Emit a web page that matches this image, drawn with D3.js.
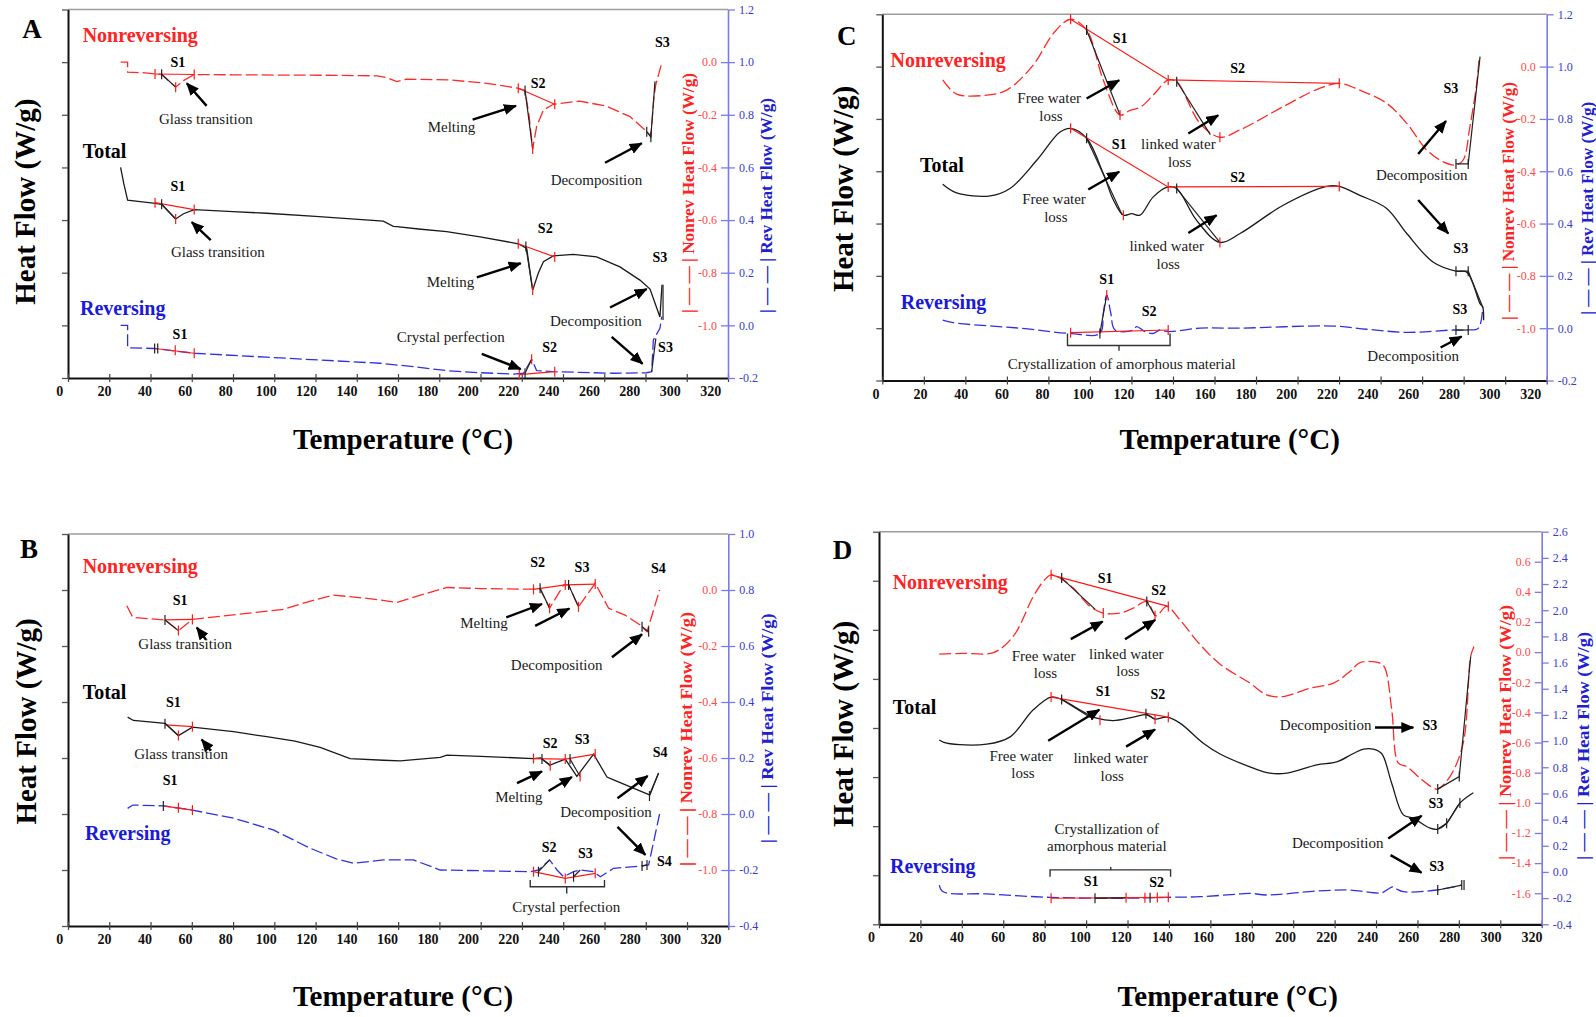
<!DOCTYPE html>
<html><head><meta charset="utf-8">
<script src="https://cdn.jsdelivr.net/npm/d3@7"></script>
<style>body{margin:0;background:#fff}svg{display:block}text{font-family:"Liberation Serif","Times New Roman",serif}</style>
</head><body>
<svg id="chart" width="1596" height="1017"></svg>
<script>
// ---------------- DATA ----------------
const xTicks=[0,20,40,60,80,100,120,140,160,180,200,220,240,260,280,300,320];
const A_blueTicks=[1.2,1.0,0.8,0.6,0.4,0.2,0.0,-0.2];
const A_redTicks=[0.0,-0.2,-0.4,-0.6,-0.8,-1.0];
const B_blueTicks=[1.0,0.8,0.6,0.4,0.2,0.0,-0.2,-0.4];
const B_redTicks=[0.0,-0.2,-0.4,-0.6,-0.8,-1.0];
const C_blueTicks=[1.2,1.0,0.8,0.6,0.4,0.2,0.0,-0.2];
const C_redTicks=[0.0,-0.2,-0.4,-0.6,-0.8,-1.0];
const D_blueTicks=[2.6,2.4,2.2,2.0,1.8,1.6,1.4,1.2,1.0,0.8,0.6,0.4,0.2,0.0,-0.2,-0.4];
const D_redTicks=[0.6,0.4,0.2,0.0,-0.2,-0.4,-0.6,-0.8,-1.0,-1.2,-1.4,-1.6];

// Panel A  (T °C, value)  nonrev: red axis, total: left (unlabelled) units, rev: blue axis
const A_nonrev=[[25.5,0.0],[28.9,0.0],[28.9,-0.038],[36,-0.040],[42.2,-0.045],[45.4,-0.047],[52.2,-0.095],[56,-0.07],[61.2,-0.047],[80,-0.048],[100,-0.049],[130,-0.050],[150,-0.052],[155,-0.06],[159.4,-0.074],[164,-0.065],[184,-0.067],[200,-0.078],[208,-0.086],[218,-0.099],[221.6,-0.108],[223.5,-0.2],[225.3,-0.33],[227.2,-0.245],[230.5,-0.182],[235.3,-0.16],[248,-0.148],[261,-0.167],[272.5,-0.207],[280.6,-0.264],[282.6,-0.28],[284,-0.14],[285,-0.085],[288,0.0]];
const A_total=[[25.5,4.0],[27,3.7],[28.9,3.38],[35,3.35],[41.4,3.32],[45.4,3.30],[52.2,3.02],[56,3.12],[61.2,3.2],[80,3.16],[96.3,3.13],[120,3.07],[152.9,2.98],[157.7,2.88],[159.4,2.875],[170,2.83],[183.6,2.78],[199.8,2.68],[218.3,2.55],[222.4,2.46],[225.3,1.67],[228,1.99],[230.5,2.21],[235.3,2.32],[245,2.35],[256.3,2.30],[267.6,2.11],[277.3,1.86],[282.2,1.69],[287,1.16],[288,1.77]];
const A_rev=[[25.5,0.0],[28.9,0.0],[28.9,-0.085],[42,-0.088],[61.2,-0.106],[96.3,-0.121],[130,-0.135],[151.3,-0.144],[167.4,-0.157],[183.6,-0.172],[200,-0.18],[216,-0.185],[220.8,-0.182],[222.5,-0.16],[224.8,-0.129],[226,-0.15],[227.2,-0.172],[235.3,-0.176],[264.4,-0.182],[280.6,-0.18],[283,-0.176],[283.8,-0.056],[287,-0.011],[287.9,0.033]];
const A_lines=[["n","r",[[42.2,-0.045],[61.2,-0.047]]],["n","k",[[45.4,-0.046],[52.2,-0.095]]],["n","r",[[218.3,-0.099],[236,-0.16]]],["n","k",[[221.6,-0.108],[225.3,-0.33]]],["n","k",[[280.6,-0.264],[282.6,-0.285],[284.6,-0.073]]],["t","r",[[42.2,3.33],[61.2,3.2]]],["t","k",[[45.4,3.30],[52.2,3.02]]],["t","r",[[218.3,2.55],[236,2.30]]],["t","k",[[222,2.50],[225.3,1.67]]],["t","k",[[288.5,1.77],[288.5,1.1]]],["r","r",[[42.2,-0.088],[61.2,-0.106]]],["r","r",[[218.8,-0.187],[236,-0.176]]],["r","k",[[221.6,-0.182],[224.8,-0.129]]],["r","k",[[283,-0.176],[285,-0.05]]]];
const A_ticks=[["n","r",42.2,-0.045],["n","k",45.4,-0.046],["n","r",52.2,-0.095],["n","r",61.2,-0.047],["n","r",218.3,-0.099],["n","k",221.6,-0.108],["n","r",225.3,-0.33],["n","r",236,-0.16],["n","k",280.6,-0.264],["n","k",282.6,-0.285],["t","r",42.2,3.33],["t","k",45.4,3.30],["t","r",52.2,3.02],["t","r",61.2,3.2],["t","r",218.3,2.55],["t","k",222,2.5],["t","r",225.3,1.67],["t","r",236,2.30],["r","k",42,-0.088],["r","k",43.5,-0.088],["r","r",52,-0.095],["r","r",61.2,-0.106],["r","r",218.8,-0.187],["r","k",221.6,-0.182],["r","r",224.8,-0.129],["r","r",236,-0.176]];
const A_notes=[["Nonreversing",7.1,6.39,"start","nr"],["S1",53.3,5.91,"middle","s"],["Glass transition",44.1,4.83,"start","a"],["Total",7.1,4.17,"start","tot"],["S1",53.3,3.56,"middle","s"],["Glass transition",49.9,2.29,"start","a"],["Reversing",5.8,1.20,"start","rv"],["S1",54.3,0.75,"middle","s"],["S3",288.2,6.29,"middle","s"],["S2",227.9,5.50,"middle","s"],["Melting",174.4,4.68,"start","a"],["Decomposition",234,3.67,"start","a"],["S2",231.4,2.75,"middle","s"],["Melting",173.9,1.73,"start","a"],["S3",287,2.21,"middle","s"],["Decomposition",233.7,0.99,"start","a"],["Crystal perfection",159.4,0.69,"start","a"],["S2",233.5,0.50,"middle","s"],["S3",289.7,0.50,"middle","s"]];
const A_arrows=[[67.2,5.17,57.6,5.60],[69.2,2.62,60,2.96],[196.2,4.91,217.2,5.17],[260.4,4.09,278.2,4.46],[198.2,1.91,219.5,2.18],[262.8,1.34,280.6,1.69],[263.6,0.78,278.6,0.27],[200.6,0.46,219.5,0.17]];
const A_brackets=[];

// Panel B
const B_nonrev=[[28.5,-0.056],[31.4,-0.0975],[40,-0.103],[47,-0.107],[53.5,-0.145],[60.3,-0.105],[80.2,-0.089],[104.4,-0.069],[115,-0.045],[128.6,-0.018],[144.8,-0.03],[151.3,-0.036],[159.4,-0.044],[170,-0.02],[183.6,0.009],[200,0.005],[224,0.003],[228.8,0.004],[233.4,-0.065],[240.2,0.018],[242.6,0.018],[247.4,-0.06],[255.5,0.024],[262,-0.065],[270,-0.09],[277.3,-0.125],[280.6,-0.149],[286.7,0.0]];
const B_total=[[28.9,3.73],[31.7,3.67],[47,3.62],[53.5,3.40],[60.3,3.55],[80.2,3.47],[96.3,3.38],[110,3.30],[122.2,3.19],[136.7,2.99],[152.9,2.96],[161,2.95],[180.4,3.01],[183.6,3.05],[200,3.03],[225.6,2.99],[229,3.0],[233.7,2.875],[241,2.98],[246.6,2.67],[254.7,3.07],[261.2,2.66],[264.4,2.61],[281.8,2.34],[286.2,2.73]];
const B_rev=[[28.9,0.02],[31.4,0.032],[46.2,0.029],[60.3,0.014],[80.2,-0.015],[99.5,-0.057],[117.3,-0.122],[130,-0.16],[138.3,-0.176],[152.9,-0.164],[167.4,-0.164],[180.4,-0.2],[224,-0.206],[228,-0.2],[233.4,-0.164],[237,-0.2],[240.2,-0.224],[245,-0.206],[248.2,-0.2],[254.7,-0.206],[258,-0.224],[264.4,-0.194],[277.3,-0.186],[281.4,-0.182],[286.7,0.0]];
const B_lines=[["n","r",[[47,-0.107],[60.3,-0.105]]],["n","k",[[47,-0.107],[53.5,-0.145]]],["n","r",[[225.6,0.0025],[241,0.018],[255.5,0.021]]],["n","k",[[228.8,0.006],[233.4,-0.065]]],["n","k",[[242.6,0.018],[247.4,-0.06]]],["n","k",[[278.2,-0.131],[281.4,-0.149]]],["t","r",[[47,3.59],[60.3,3.56]]],["t","k",[[47,3.62],[53.5,3.40]]],["t","r",[[225.6,2.99],[241,2.98],[255.5,3.07]]],["t","k",[[229.7,2.98],[233.7,2.86]]],["t","k",[[243.3,2.98],[248.2,2.67]]],["t","k",[[281.8,2.32],[286.2,2.73]]],["r","r",[[46.2,0.029],[60.3,0.014]]],["r","r",[[225.6,-0.206],[241,-0.23],[255.5,-0.212]]],["r","k",[[228,-0.206],[233.4,-0.164]]],["r","k",[[245,-0.224],[248.2,-0.2]]],["r","k",[[278.2,-0.186],[280.6,-0.182]]]];
const B_ticks=[["n","k",47,-0.107],["n","r",53.5,-0.145],["n","r",60.3,-0.105],["n","r",225.6,0.0025],["n","k",228.8,0.006],["n","r",233.4,-0.065],["n","r",241,0.018],["n","k",242.6,0.018],["n","r",247.4,-0.06],["n","r",255.5,0.021],["n","k",278.2,-0.131],["n","k",281.4,-0.149],["t","k",47,3.61],["t","r",53.5,3.40],["t","r",60.3,3.56],["t","r",225.6,2.99],["t","k",229.7,2.98],["t","r",233.7,2.86],["t","r",241,2.98],["t","k",243.3,2.98],["t","r",248.2,2.67],["t","r",255.5,3.07],["t","k",281.8,2.32],["r","k",46.2,0.029],["r","r",53.5,0.022],["r","r",60.3,0.014],["r","r",225.6,-0.206],["r","k",228,-0.206],["r","r",241,-0.23],["r","k",245,-0.224],["r","r",255.5,-0.212],["r","k",278.2,-0.186],["r","k",280.6,-0.182]];
const B_notes=[["Nonreversing",7.1,6.30,"start","nr"],["S1",54.3,5.74,"middle","s"],["Glass transition",34.1,4.94,"start","a"],["Total",7.1,4.05,"start","tot"],["S1",51.1,3.91,"middle","s"],["Glass transition",32.1,2.98,"start","a"],["S1",49.5,2.51,"middle","s"],["Reversing",8.2,1.54,"start","rv"],["S2",227.6,6.41,"middle","s"],["S3",249.1,6.33,"middle","s"],["S4",286.1,6.30,"middle","s"],["Melting",190.1,5.32,"start","a"],["Decomposition",214.6,4.58,"start","a"],["S2",233.7,3.17,"middle","s"],["S3",249.2,3.25,"middle","s"],["S4",287,3.02,"middle","s"],["Melting",207,2.22,"start","a"],["Decomposition",238.5,1.95,"start","a"],["S2",233.2,1.32,"middle","s"],["S3",250.7,1.21,"middle","s"],["S4",289,1.08,"middle","s"],["Crystal perfection",241.5,0.255,"middle","a"]];
const B_arrows=[[66.9,5.11,62.4,5.33],[69.2,3.13,64.8,3.33],[212.4,5.51,229.7,5.75],[226.4,5.36,243,5.67],[263.6,4.80,278.2,5.21],[217.6,2.55,229.7,2.76],[232.9,2.41,244.2,2.66],[266.3,2.28,280.9,2.68],[266.3,1.77,279.8,1.27]];
const B_brackets=[[224,260,0.70,0.82,241.7,0.58]];

// Panel C
const C_nonrev=[[29.1,-0.051],[35.8,-0.105],[50.3,-0.109],[59.9,-0.09],[72.7,0.006],[82.4,0.127],[90.7,0.181],[98.4,0.14],[106.4,-0.051],[114.5,-0.185],[119.3,-0.167],[124.1,-0.156],[130.5,-0.109],[137.7,-0.051],[141.8,-0.058],[153,-0.217],[162.6,-0.27],[172.3,-0.242],[193.1,-0.153],[210,-0.085],[220.1,-0.064],[230,-0.09],[242.9,-0.14],[252.6,-0.217],[262.2,-0.319],[270.2,-0.364],[276.3,-0.376],[279.8,-0.357],[283,-0.23],[286.3,-0.064],[287.5,0.037]];
const C_total=[[29.1,3.75],[35.8,3.585],[52,3.53],[61.5,3.67],[74.4,4.21],[85.6,4.75],[90.7,4.82],[98.4,4.63],[106.4,3.96],[111.3,3.45],[116.1,3.16],[120.1,3.19],[124.1,3.16],[130.5,3.51],[137.7,3.70],[141.8,3.67],[151.4,3.06],[162.6,2.64],[172.3,2.81],[193.1,3.35],[214,3.71],[220.1,3.71],[230,3.54],[242.9,3.29],[252.6,2.81],[265.4,2.26],[276.3,2.09],[281.5,2.07],[287.9,1.47],[289.2,1.40],[289.6,1.15]];
const C_rev=[[29.1,0.031],[34.2,0.021],[66.3,0.0],[90.4,-0.02],[104.8,-0.02],[106.5,0.06],[108.1,0.127],[110,0.06],[112.1,-0.007],[120.9,-0.007],[122.5,0.006],[126.5,-0.013],[130.5,-0.02],[133.7,-0.007],[137.7,-0.013],[153,0.0],[170.7,0.0],[217.2,0.008],[233.3,-0.004],[252.6,-0.016],[275,-0.007],[281.5,-0.007],[287.1,0.0],[289.2,0.082]];
const C_lines=[["n","r",[[90.7,0.181],[137.7,-0.051],[220.1,-0.064]]],["n","k",[[98.4,0.14],[114.5,-0.185]]],["n","k",[[141.8,-0.056],[158,-0.26]]],["n","k",[[276.3,-0.372],[282.2,-0.372],[287.9,0.038]]],["t","r",[[90.7,4.82],[137.7,3.70],[220.1,3.71]]],["t","k",[[98.4,4.63],[115.5,3.17]]],["t","k",[[141.8,3.67],[162.6,2.64]]],["t","k",[[276.3,2.09],[282.2,2.09],[289.2,1.40]]],["r","r",[[90.7,-0.017],[137.7,-0.007]]],["r","k",[[104.8,-0.02],[108.1,0.127]]],["r","k",[[276.3,-0.007],[282.2,-0.007]]]];
const C_ticks=[["n","r",90.7,0.181],["n","k",98.4,0.14],["n","r",114.5,-0.185],["n","r",137.7,-0.051],["n","k",141.8,-0.058],["n","r",162.6,-0.27],["n","r",220.1,-0.064],["n","k",276.3,-0.372],["n","k",282.2,-0.372],["t","r",90.7,4.82],["t","k",98.4,4.63],["t","r",116.1,3.16],["t","r",137.7,3.70],["t","k",141.8,3.67],["t","r",162.6,2.64],["t","r",220.1,3.71],["t","k",276.3,2.09],["t","k",282.2,2.09],["r","r",90.7,-0.017],["r","k",104.8,-0.02],["r","r",108.1,0.127],["r","r",137.7,-0.007],["r","k",276.3,-0.007],["r","k",282.2,-0.007]];
const C_notes=[["Nonreversing",4.0,6.0,"start","nr"],["S1",114.5,6.46,"middle","s"],["Free water",80.4,5.30,"middle","a"],["loss",81.2,4.96,"middle","a"],["S2",171.1,5.87,"middle","s"],["linked water",142.6,4.42,"middle","a"],["loss",143.2,4.08,"middle","a"],["S1",114.1,4.42,"middle","s"],["Total",18.2,3.99,"start","tot"],["Free water",82.7,3.37,"middle","a"],["loss",83.6,3.03,"middle","a"],["S2",171.1,3.80,"middle","s"],["linked water",137,2.48,"middle","a"],["loss",137.7,2.14,"middle","a"],["S1",108.1,1.85,"middle","s"],["S2",128.5,1.24,"middle","s"],["Reversing",8.9,1.37,"start","rv"],["S3",273.8,5.50,"middle","s"],["Decomposition",259.8,3.83,"middle","a"],["S3",278.6,2.44,"middle","s"],["S3",278.2,1.28,"middle","s"],["Decomposition",255.7,0.38,"middle","a"],["Crystallization of amorphous material",115.3,0.22,"middle","a"]];
const C_arrows=[[98.4,5.39,114.1,5.74],[147.4,4.72,161.8,5.07],[99.2,3.65,114.1,3.99],[147.4,2.82,161,3.16],[258.1,4.33,271.5,4.96],[258.1,3.45,272.6,2.81],[268.9,0.63,279,0.84]];
const C_brackets=[[89.2,138.6,0.67,0.90,114,0.57]];

// Panel D
const D_nonrev=[[29.1,-0.013],[40,-0.008],[55.2,-0.003],[64.8,0.104],[74.5,0.369],[80,0.48],[83.1,0.513],[87.4,0.491],[93.8,0.425],[101.9,0.303],[108.3,0.259],[116.4,0.259],[122.8,0.292],[129.3,0.336],[133.8,0.241],[138.9,0.303],[145.3,0.214],[155,0.05],[164.7,-0.08],[179.1,-0.206],[187.2,-0.283],[195.2,-0.295],[208.1,-0.239],[219.4,-0.206],[227.4,-0.129],[232.3,-0.069],[241.9,-0.073],[244.3,-0.106],[247.6,-0.383],[250.8,-0.737],[254.8,-0.759],[261.2,-0.836],[267.7,-0.902],[269.8,-0.909],[275.7,-0.826],[282.1,-0.604],[285.7,-0.029],[287.3,0.037]];
const D_total=[[29.1,3.756],[32.7,3.69],[52,3.67],[63.3,3.82],[74.5,4.37],[83.1,4.63],[88.2,4.58],[96.9,4.37],[105.1,4.20],[113.1,4.15],[122.8,4.22],[129.3,4.27],[133.3,4.18],[138.9,4.22],[145.3,4.10],[156.6,3.69],[164.7,3.47],[179.1,3.21],[188.8,3.08],[196.9,3.08],[211.4,3.25],[221,3.31],[229,3.48],[233.9,3.57],[238.7,3.57],[242.7,3.48],[247.6,2.87],[253.2,2.23],[258.1,2.16],[266.1,1.96],[269.8,1.94],[274.1,2.06],[280.5,2.47],[287,2.68]];
const D_rev=[[29.1,-0.1],[31,-0.151],[52,-0.168],[82.6,-0.194],[116.4,-0.201],[138.9,-0.194],[155,-0.189],[174.3,-0.168],[179.1,-0.163],[187.2,-0.176],[211.4,-0.146],[227.4,-0.138],[242.7,-0.159],[246,-0.13],[248.3,-0.113],[250,-0.13],[253.2,-0.151],[269.3,-0.138],[281.4,-0.1]];
const D_lines=[["n","r",[[83.1,0.513],[139.7,0.303]]],["n","k",[[88.2,0.491],[104.3,0.285]]],["n","k",[[129.3,0.336],[133.3,0.241]]],["n","k",[[269.8,-0.909],[280.2,-0.826],[285.7,-0.029]]],["t","r",[[83.1,4.63],[139.7,4.22]]],["t","k",[[88.2,4.58],[101.9,4.22]]],["t","k",[[128.9,4.29],[133.3,4.18]]],["t","k",[[269.8,1.94],[274.1,2.06],[280.5,2.47]]],["r","r",[[83.1,-0.201],[139.7,-0.194]]],["r","k",[[104.3,-0.2],[119.3,-0.198]]],["r","k",[[269.8,-0.138],[281.4,-0.1]]]];
const D_ticks=[["n","r",83.1,0.513],["n","k",88.2,0.491],["n","r",108.3,0.259],["n","k",129.3,0.336],["n","r",133.3,0.241],["n","r",139.7,0.303],["n","k",269.8,-0.909],["n","k",280.2,-0.826],["t","r",83.1,4.63],["t","k",88.2,4.58],["t","r",106.7,4.16],["t","k",128.9,4.29],["t","r",133.3,4.18],["t","r",139.7,4.22],["t","k",269.8,1.94],["t","k",274.1,2.06],["t","k",280.5,2.47],["r","r",83.1,-0.201],["r","k",104.3,-0.2],["r","r",119.3,-0.198],["r","r",128.4,-0.197],["r","k",130.9,-0.197],["r","r",134.4,-0.196],["r","r",139.7,-0.194],["r","k",269.8,-0.138],["r","k",281.4,-0.1],["r","k",282.5,-0.1]];
const D_notes=[["Nonreversing",6.6,6.83,"start","nr"],["S1",109.2,6.95,"middle","s"],["S2",135,6.71,"middle","s"],["Free water",79.5,5.37,"middle","a"],["loss",80.4,5.01,"middle","a"],["linked water",119.4,5.41,"middle","a"],["loss",120.2,5.05,"middle","a"],["Total",6.6,4.29,"start","tot"],["S1",108.2,4.65,"middle","s"],["S2",134.7,4.59,"middle","s"],["Free water",68.7,3.33,"middle","a"],["loss",69.5,2.98,"middle","a"],["linked water",111.9,3.28,"middle","a"],["loss",112.6,2.93,"middle","a"],["Crystallization of",110,1.85,"middle","a"],["amorphous material",110,1.50,"middle","a"],["Reversing",5.3,1.05,"start","rv"],["S1",102.4,0.78,"middle","s"],["S2",134.1,0.77,"middle","s"],["Decomposition",215.7,3.96,"middle","a"],["S3",266,3.96,"middle","s"],["S3",268.9,2.36,"middle","s"],["Decomposition",221.5,1.55,"middle","a"],["S3",269.3,1.09,"middle","s"]];
const D_arrows=[[92.6,5.81,108,6.17],[118.8,5.81,133.3,6.20],[81.7,3.74,106.4,4.37],[119.3,3.62,133.3,3.97],[239.5,4.01,258,4.01],[245.9,1.75,262,2.21],[247,1.41,262,1.05]];
const D_brackets=[[82.6,140.8,1.11,0.97,111.9,1.17]];

// ---------------- LAYOUT ----------------
const panels=[
 {id:"A",L:68,R:728,T:9.5,B:378,nL:7,blue:[-0.2,1.2],red:[-1.2,0.2],bt:A_blueTicks,rt:A_redTicks,nonrev:A_nonrev,total:A_total,rev:A_rev,lines:A_lines,ticks:A_ticks,notes:A_notes,arrows:A_arrows,brackets:A_brackets,smooth:false,
  letter:[32,38],hf:[35,201.7],xt:[403,449],rtl:[694,193,240],btl:[771.7,205.5,215],ls:[-8.2,-4.75,-17.3]},
 {id:"B",L:68,R:728.3,T:534,B:926,nL:7,blue:[-0.4,1.0],red:[-1.2,0.2],bt:B_blueTicks,rt:B_redTicks,nonrev:B_nonrev,total:B_total,rev:B_rev,lines:B_lines,ticks:B_ticks,notes:B_notes,arrows:B_arrows,brackets:B_brackets,smooth:false,
  letter:[29,558],hf:[36,721.5],xt:[403,1006],rtl:[691.5,739,254],btl:[773,728.3,230],ls:[-8.2,-4.75,-17.3]},
 {id:"C",L:882.3,R:1546.7,T:14.3,B:380.5,nL:7,blue:[-0.2,1.2],red:[-1.2,0.2],bt:C_blueTicks,rt:C_redTicks,nonrev:C_nonrev,total:C_total,rev:C_rev,lines:C_lines,ticks:C_ticks,notes:C_notes,arrows:C_arrows,brackets:C_brackets,smooth:true,
  letter:[846.7,45],hf:[853,189],xt:[1229.7,449],rtl:[1514,201,238],btl:[1593,208.3,213],ls:[-6.4,-3.3,-15.9]},
 {id:"D",L:879,R:1541.7,T:531.7,B:924.3,nL:8,blue:[-0.4,2.6],red:[-1.806,0.799],bt:D_blueTicks,rt:D_redTicks,nonrev:D_nonrev,total:D_total,rev:D_rev,lines:D_lines,ticks:D_ticks,notes:D_notes,arrows:D_arrows,brackets:D_brackets,smooth:true,
  letter:[842.5,559],hf:[853,724],xt:[1227.7,1006],rtl:[1510.5,732.5,255],btl:[1589,746,228],ls:[-7.6,-4.4,-9.7]}
];

const RED="#ff2424", AXB="#7b7be6";
const svg=d3.select("#chart");
const defs=svg.append("defs");
defs.append("marker").attr("id","ah").attr("viewBox","0 0 13 11").attr("refX",12).attr("refY",5.5)
 .attr("markerWidth",13).attr("markerHeight",11).attr("markerUnits","userSpaceOnUse").attr("orient","auto")
 .append("path").attr("d","M0,0 L13,5.5 L0,11 Z").attr("fill","#000");
const fmt=v=>(Math.abs(v)<1e-9?0:v).toFixed(1);
const noteStyle={
 nr:{fill:RED,w:"bold",s:20}, tot:{fill:"#000",w:"bold",s:20}, rv:{fill:"#1a1ad8",w:"bold",s:20},
 s:{fill:"#000",w:"bold",s:14}, a:{fill:"#1a1a1a",w:"normal",s:15}
};

panels.forEach(p=>{
 const g=svg.append("g");
 const x=d3.scaleLinear([0,320],[p.L,p.R]);
 const yL=d3.scaleLinear([0,p.nL],[p.B,p.T]);
 const yB=d3.scaleLinear(p.blue,[p.B,p.T]);
 const yR=d3.scaleLinear(p.red,[p.B,p.T]);
 const ys={n:yR,t:yL,r:yB};
 const labX=d3.scaleLinear([20,320],[x(20)+p.ls[1],x(320)+p.ls[2]]);

 g.append("line").attr("x1",p.L).attr("x2",p.R).attr("y1",p.T).attr("y2",p.T).attr("stroke","#9c9c9c").attr("stroke-width",1.6);
 const la=g.append("g").attr("transform",`translate(${p.L},0)`)
  .call(d3.axisLeft(yL).tickValues(d3.range(0,p.nL+1)).tickFormat("").tickSize(6).tickSizeOuter(0));
 la.select(".domain").attr("stroke","#111").attr("stroke-width",2);
 la.selectAll(".tick line").attr("stroke","#555").attr("stroke-width",1.3);
 const ba=g.append("g").attr("transform",`translate(0,${p.B})`)
  .call(d3.axisBottom(x).tickValues(xTicks).tickFormat("").tickSize(4).tickSizeOuter(0));
 ba.select(".domain").attr("stroke","#111").attr("stroke-width",2.2);
 ba.selectAll(".tick line").attr("y1",-4).attr("stroke","#444").attr("stroke-width",1.2);
 g.append("g").selectAll("text").data(xTicks).join("text")
  .attr("x",d=>d===0?x(0)+p.ls[0]:labX(d)).attr("y",p.B+18)
  .attr("text-anchor","middle").attr("font-weight","bold").attr("font-size",14).attr("fill","#111").text(d=>d);
 const ra=g.append("g").attr("transform",`translate(${p.R},0)`)
  .call(d3.axisRight(yB).tickValues(p.bt).tickFormat(fmt).tickSize(7).tickPadding(4).tickSizeOuter(0));
 ra.attr("font-family","Liberation Serif").attr("font-size",12);
 ra.select(".domain").attr("stroke",AXB).attr("stroke-width",1.6);
 ra.selectAll(".tick line").attr("stroke",AXB).attr("stroke-width",1.3);
 ra.selectAll(".tick text").attr("fill","#3a3ac8");
 const rr=g.append("g").attr("transform",`translate(${p.R},0)`)
  .call(d3.axisLeft(yR).tickValues(p.rt).tickFormat(fmt).tickSize(7).tickPadding(4).tickSizeOuter(0));
 rr.attr("font-family","Liberation Serif").attr("font-size",12);
 rr.select(".domain").remove();
 rr.selectAll(".tick line").attr("stroke",AXB).attr("stroke-width",1.3);
 rr.selectAll(".tick text").attr("fill","#ff4a4a");

 g.append("text").attr("x",p.letter[0]).attr("y",p.letter[1]).attr("text-anchor","middle")
  .attr("font-weight","bold").attr("font-size",27).text(p.id);
 g.append("text").attr("transform",`translate(${p.hf[0]},${p.hf[1]}) rotate(-90)`).attr("text-anchor","middle")
  .attr("font-weight","bold").attr("font-size",29).text("Heat Flow (W/g)");
 g.append("text").attr("x",p.xt[0]).attr("y",p.xt[1]).attr("text-anchor","middle")
  .attr("font-weight","bold").attr("font-size",29).text("Temperature (°C)");
 g.append("text").attr("transform",`translate(${p.rtl[0]},${p.rtl[1]}) rotate(-90)`).attr("text-anchor","middle")
  .attr("font-weight","bold").attr("font-size",17).attr("fill",RED)
  .attr("textLength",p.rtl[2]).attr("lengthAdjust","spacingAndGlyphs").text("| — — | Nonrev Heat Flow (W/g)");
 g.append("text").attr("transform",`translate(${p.btl[0]},${p.btl[1]}) rotate(-90)`).attr("text-anchor","middle")
  .attr("font-weight","bold").attr("font-size",17).attr("fill","#2020d0")
  .attr("textLength",p.btl[2]).attr("lengthAdjust","spacingAndGlyphs").text("| — — | Rev Heat Flow (W/g)");

 const curve=p.smooth?d3.curveCatmullRom.alpha(0.5):d3.curveLinear;
 const mk=(yy)=>d3.line().x(d=>x(d[0])).y(d=>yy(d[1])).curve(curve);
 g.append("path").datum(p.rev).attr("d",mk(yB)).attr("fill","none").attr("stroke","#3030e0").attr("stroke-width",1.3).attr("stroke-dasharray","12,4");
 g.append("path").datum(p.total).attr("d",mk(yL)).attr("fill","none").attr("stroke","#1a1a1a").attr("stroke-width",1.3);
 g.append("path").datum(p.nonrev).attr("d",mk(yR)).attr("fill","none").attr("stroke","#ff2a2a").attr("stroke-width",1.3).attr("stroke-dasharray","12,4");

 const lin=d3.line();
 p.lines.forEach(([s,c,pts])=>{
  g.append("path").attr("d",lin(pts.map(d=>[x(d[0]),ys[s](d[1])])))
   .attr("fill","none").attr("stroke",c==="r"?"#ff1a1a":"#222").attr("stroke-width",1.2);
 });
 g.append("g").selectAll("line").data(p.ticks).join("line")
  .attr("x1",d=>x(d[2])).attr("x2",d=>x(d[2]))
  .attr("y1",d=>ys[d[0]](d[3])-5).attr("y2",d=>ys[d[0]](d[3])+5)
  .attr("stroke",d=>d[1]==="r"?"#ff1a1a":"#222").attr("stroke-width",1.2);

 p.brackets.forEach(b=>{
  const [t1,t2,uLine,uLeg,tm,uPt]=b;
  const path=`M${x(t1)},${yL(uLeg)}L${x(t1)},${yL(uLine)}L${x(t2)},${yL(uLine)}L${x(t2)},${yL(uLeg)}M${x(tm)},${yL(uLine)}L${x(tm)},${yL(uPt)}`;
  g.append("path").attr("d",path).attr("fill","none").attr("stroke","#333").attr("stroke-width",1.4);
 });

 g.append("g").selectAll("line").data(p.arrows).join("line")
  .attr("x1",d=>x(d[0])).attr("y1",d=>yL(d[1])).attr("x2",d=>x(d[2])).attr("y2",d=>yL(d[3]))
  .attr("stroke","#000").attr("stroke-width",2.4).attr("marker-end","url(#ah)");

 g.append("g").selectAll("text").data(p.notes).join("text")
  .attr("x",d=>x(d[1])).attr("y",d=>yL(d[2])).attr("text-anchor",d=>d[3])
  .attr("fill",d=>noteStyle[d[4]].fill).attr("font-weight",d=>noteStyle[d[4]].w)
  .attr("font-size",d=>noteStyle[d[4]].s).text(d=>d[0]);
});
</script>
</body></html>
